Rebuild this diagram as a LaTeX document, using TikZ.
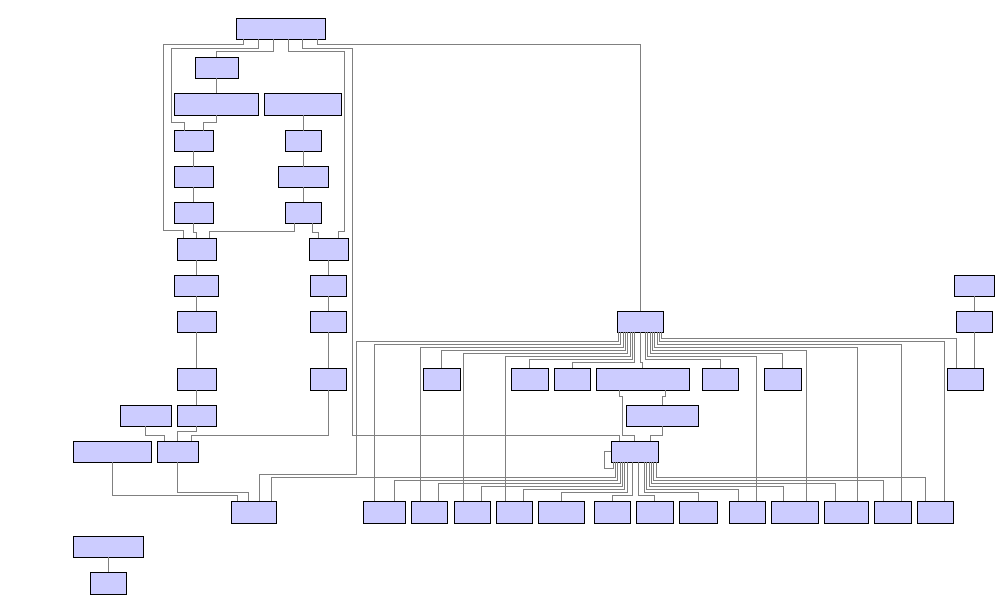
\documentclass[tikz,border=0pt]{standalone}
\usepackage{tikz}
\definecolor{boxfill}{HTML}{CCCCFF}
\definecolor{wiregray}{HTML}{808080}
\tikzset{
  box/.style={draw=black, fill=boxfill, line width=0.8pt, inner sep=0pt, outer sep=0pt},
  wire/.style={draw=wiregray, line width=0.75pt}
}
\newcommand\bx[5]{\node[box, minimum width=#4pt, minimum height=#5pt] (#1) at (#2,#3) {};}
\begin{document}
\begin{tikzpicture}[x=1pt,y=-1pt]
\useasboundingbox (0,0) rectangle (1004,611);
% ---------- wires (drawn first) ----------
% left cluster nodes placeholders need names: draw nodes first in a scope, wires after on background -> simply draw nodes, then wires, then redraw nothing
% ---------- nodes ----------
\bx{A}{280.8}{28.8}{89}{21}
\bx{B}{216.8}{67.8}{43}{21}
\bx{C}{216.3}{104.2}{84}{21.7}
\bx{D}{303}{104.2}{77.4}{21.7}
\bx{E}{193.8}{141}{39}{20.6}
\bx{F}{303.3}{141}{36}{20.6}
\bx{G}{193.8}{177}{39}{20.6}
\bx{H}{303.3}{177}{50}{20.6}
\bx{I}{193.8}{212.7}{39}{20.6}
\bx{J}{303.3}{212.7}{36}{20.6}
\bx{K}{196.8}{249.3}{39}{22}
\bx{L}{328.8}{249.3}{39}{22}
\bx{M}{196.3}{285.8}{44}{21}
\bx{N}{328.3}{285.8}{36}{21}
\bx{O}{196.8}{321.8}{39}{21}
\bx{P}{328.3}{321.8}{36}{21}
\bx{Q}{196.8}{379.3}{39}{22}
\bx{R}{328.3}{379.3}{36}{22}
\bx{S}{145.8}{415.8}{51}{21}
\bx{T}{196.8}{415.8}{39}{21}
\bx{U}{112.3}{451.8}{78}{21}
\bx{V}{177.8}{451.8}{41}{21}
\bx{W}{253.8}{512.3}{45}{22}
\bx{X}{108.3}{546.8}{70}{21}
\bx{Y}{108.3}{583.3}{36}{22}
% right part
\bx{H1}{640.3}{321.8}{46}{21}
\bx{n1}{441.8}{379.3}{37}{22}
\bx{n2}{529.8}{379.3}{37}{22}
\bx{n3}{572.3}{379.3}{36}{22}
\bx{n4}{642.8}{379.3}{93}{22}
\bx{n5}{720.3}{379.3}{36}{22}
\bx{n6}{782.8}{379.3}{37}{22}
\bx{n7}{965.3}{379.3}{36}{22}
\bx{Z1}{974.3}{285.8}{40}{21}
\bx{Z2}{974.3}{321.8}{36}{21}
\bx{n8}{662.3}{415.8}{72}{21}
\bx{HB}{634.8}{451.8}{47}{21}
\bx{b1}{384.3}{512.3}{42}{22}
\bx{b2}{429.3}{512.3}{36}{22}
\bx{b3}{472.3}{512.3}{36}{22}
\bx{b4}{514.3}{512.3}{36}{22}
\bx{b5}{561.5}{512.3}{45.6}{22}
\bx{b6}{612.3}{512.3}{36}{22}
\bx{b7}{654.8}{512.3}{37}{22}
\bx{b8}{698.3}{512.3}{38}{22}
\bx{b9}{747.3}{512.3}{36}{22}
\bx{b10}{794.8}{512.3}{47}{22}
\bx{b11}{846.3}{512.3}{44}{22}
\bx{b12}{892.8}{512.3}{37}{22}
\bx{b13}{935.3}{512.3}{36}{22}
% ---------- wires ----------
\begin{scope}[wire]
% from A
\draw (243.7,0 |- A.south) -- (243.7,44.3) -- (163.3,44.3) -- (163.3,230.7) -- (183.3,230.7) -- (183.3,0 |- K.north);
\draw (258.7,0 |- A.south) -- (258.7,48.3) -- (171.3,48.3) -- (171.3,122.3) -- (184.3,122.3) -- (184.3,0 |- E.north);
\draw (273.7,0 |- A.south) -- (273.7,51.7) -- (216.3,51.7) -- (216.3,0 |- B.north);
\draw (288.7,0 |- A.south) -- (288.7,51.7) -- (344,51.7) -- (344,231.7) -- (338.7,231.7) -- (338.7,0 |- L.north);
\draw (302.7,0 |- A.south) -- (302.7,48.3) -- (352.3,48.3) -- (352.3,435) -- (619.3,435) -- (619.3,0 |- HB.north);
\draw (317.7,0 |- A.south) -- (317.7,44.3) -- (640.3,44.3) -- (640.3,0 |- H1.north);
% left column chains
\draw (216.3,0 |- B.south) -- (216.3,0 |- C.north);
\draw (216.3,0 |- C.south) -- (216.3,122.3) -- (203.3,122.3) -- (203.3,0 |- E.north);
\draw (303.3,0 |- D.south) -- (303.3,0 |- F.north);
\draw (193.3,0 |- E.south) -- (193.3,0 |- G.north);
\draw (193.3,0 |- G.south) -- (193.3,0 |- I.north);
\draw (303.3,0 |- F.south) -- (303.3,0 |- H.north);
\draw (303.3,0 |- H.south) -- (303.3,0 |- J.north);
\draw (193.3,0 |- I.south) -- (193.3,232.7) -- (196.7,232.7) -- (196.7,0 |- K.north);
\draw (294.3,0 |- J.south) -- (294.3,231) -- (209.3,231) -- (209.3,0 |- K.north);
\draw (312.7,0 |- J.south) -- (312.7,232.7) -- (318.3,232.7) -- (318.3,0 |- L.north);
\draw (196.7,0 |- K.south) -- (196.7,0 |- M.north);
\draw (196.7,0 |- M.south) -- (196.7,0 |- O.north);
\draw (196.7,0 |- O.south) -- (196.7,0 |- Q.north);
\draw (196.7,0 |- Q.south) -- (196.7,0 |- T.north);
\draw (328.5,0 |- L.south) -- (328.5,0 |- N.north);
\draw (328.5,0 |- N.south) -- (328.5,0 |- P.north);
\draw (328.5,0 |- P.south) -- (328.5,0 |- R.north);
\draw (328.3,0 |- R.south) -- (328.3,435.3) -- (191.7,435.3) -- (191.7,0 |- V.north);
\draw (196.7,0 |- T.south) -- (196.7,431.7) -- (177.3,431.7) -- (177.3,0 |- V.north);
\draw (145.7,0 |- S.south) -- (145.7,435.3) -- (164.7,435.3) -- (164.7,0 |- V.north);
\draw (112.3,0 |- U.south) -- (112.3,495) -- (237.3,495) -- (237.3,0 |- W.north);
\draw (177.3,0 |- V.south) -- (177.3,492.3) -- (248.3,492.3) -- (248.3,0 |- W.north);
\draw (108.3,0 |- X.south) -- (108.3,0 |- Y.north);
% from H1, left side
\draw (618.3,0 |- H1.south) -- (618.3,341.7) -- (356.3,341.7) -- (356.3,474.3) -- (259.3,474.3) -- (259.3,0 |- W.north);
\draw (620.7,0 |- H1.south) -- (620.7,344.3) -- (374.3,344.3) -- (374.3,0 |- b1.north);
\draw (623,0 |- H1.south) -- (623,347.3) -- (420.3,347.3) -- (420.3,0 |- b2.north);
\draw (625.3,0 |- H1.south) -- (625.3,350.3) -- (441.3,350.3) -- (441.3,0 |- n1.north);
\draw (627.7,0 |- H1.south) -- (627.7,353.3) -- (463.3,353.3) -- (463.3,0 |- b3.north);
\draw (630,0 |- H1.south) -- (630,356.3) -- (505.3,356.3) -- (505.3,0 |- b4.north);
\draw (632.3,0 |- H1.south) -- (632.3,359.3) -- (529.3,359.3) -- (529.3,0 |- n2.north);
\draw (634.7,0 |- H1.south) -- (634.7,362.3) -- (572.3,362.3) -- (572.3,0 |- n3.north);
\draw (640.3,0 |- H1.south) -- (640.3,362) -- (642.3,362) -- (642.3,0 |- n4.north);
% from H1, right side
\draw (645.3,0 |- H1.south) -- (645.3,359.3) -- (720.7,359.3) -- (720.7,0 |- n5.north);
\draw (647.7,0 |- H1.south) -- (647.7,356.3) -- (756.7,356.3) -- (756.7,0 |- b9.north);
\draw (650,0 |- H1.south) -- (650,353.3) -- (782.3,353.3) -- (782.3,0 |- n6.north);
\draw (652.3,0 |- H1.south) -- (652.3,350.3) -- (806.3,350.3) -- (806.3,0 |- b10.north);
\draw (654.7,0 |- H1.south) -- (654.7,347.3) -- (857.7,347.3) -- (857.7,0 |- b11.north);
\draw (657,0 |- H1.south) -- (657,344.3) -- (901.7,344.3) -- (901.7,0 |- b12.north);
\draw (659.3,0 |- H1.south) -- (659.3,341) -- (944,341) -- (944,0 |- b13.north);
\draw (661.7,0 |- H1.south) -- (661.7,338.5) -- (956,338.5) -- (956,0 |- n7.north);
% top right chain
\draw (974.3,0 |- Z1.south) -- (974.3,0 |- Z2.north);
\draw (974.3,0 |- Z2.south) -- (974.3,0 |- n7.north);
% n4, n8 to hub 2
\draw (619,0 |- n4.south) -- (619,396.7) -- (622.7,396.7) -- (622.7,435) -- (634.3,435) -- (634.3,0 |- HB.north);
\draw (665,0 |- n4.south) -- (665,396.7) -- (662.3,396.7) -- (662.3,0 |- n8.north);
\draw (662.3,0 |- n8.south) -- (662.3,435) -- (650,435) -- (650,0 |- HB.north);
% hub 2 self loop
\draw (HB.west) -- (604.3,451.8) -- (604.3,468.3) -- (613,468.3) -- (613,0 |- HB.south);
% hub 2 outputs
\draw (615.3,0 |- HB.south) -- (615.3,477.7) -- (271.3,477.7) -- (271.3,0 |- W.north);
\draw (617.7,0 |- HB.south) -- (617.7,480) -- (394.3,480) -- (394.3,0 |- b1.north);
\draw (620,0 |- HB.south) -- (620,483.3) -- (438.3,483.3) -- (438.3,0 |- b2.north);
\draw (622.3,0 |- HB.south) -- (622.3,486.7) -- (481.3,486.7) -- (481.3,0 |- b3.north);
\draw (624.7,0 |- HB.south) -- (624.7,489.3) -- (523,489.3) -- (523,0 |- b4.north);
\draw (627,0 |- HB.south) -- (627,492.3) -- (561.3,492.3) -- (561.3,0 |- b5.north);
\draw (632,0 |- HB.south) -- (632,495.3) -- (612.7,495.3) -- (612.7,0 |- b6.north);
\draw (638.5,0 |- HB.south) -- (638.5,495.3) -- (654.5,495.3) -- (654.5,0 |- b7.north);
\draw (644.3,0 |- HB.south) -- (644.3,492.3) -- (698.7,492.3) -- (698.7,0 |- b8.north);
\draw (646.7,0 |- HB.south) -- (646.7,489.3) -- (738.7,489.3) -- (738.7,0 |- b9.north);
\draw (649,0 |- HB.south) -- (649,486.7) -- (783.7,486.7) -- (783.7,0 |- b10.north);
\draw (651.3,0 |- HB.south) -- (651.3,483.3) -- (835.7,483.3) -- (835.7,0 |- b11.north);
\draw (653.7,0 |- HB.south) -- (653.7,480) -- (883.7,480) -- (883.7,0 |- b12.north);
\draw (656,0 |- HB.south) -- (656,477.5) -- (925.7,477.5) -- (925.7,0 |- b13.north);
\end{scope}
\end{tikzpicture}
\end{document}
